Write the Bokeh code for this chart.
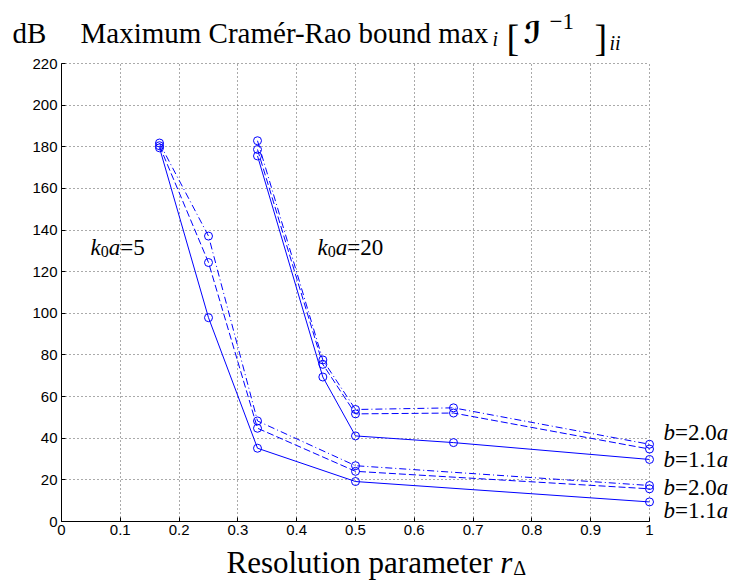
from bokeh.plotting import figure
from bokeh.models import Label, Range1d, FixedTicker
from bokeh.embed import file_html
from bokeh.resources import INLINE

# ---------------- data ----------------
r_k5 = [1/6, 1/4, 1/3, 1/2, 1.0]
k5_b11 = [179.5, 97.9, 35.2, 19.2, 9.4]
k5_b15 = [180.5, 124.4, 44.8, 24.1, 15.7]
k5_b20 = [181.8, 137.1, 48.3, 26.8, 17.3]

r_k20 = [1/3, 4/9, 1/2, 2/3, 1.0]
k20_b11 = [175.6, 69.4, 41.1, 37.9, 29.8]
k20_b15 = [178.7, 75.5, 51.7, 52.1, 34.8]
k20_b20 = [182.9, 77.6, 53.8, 54.6, 37.1]

x_ticks = [0, 0.1, 0.2, 0.3, 0.4, 0.5, 0.6, 0.7, 0.8, 0.9, 1]
y_ticks = [0, 20, 40, 60, 80, 100, 120, 140, 160, 180, 200, 220]
end_label_b = ["2.0", "1.1", "2.0", "1.1"]

# ---------------- layout (canvas pixels) ----------------
W, H = 731, 581
X0_PX, X1_PX = 61, 649          # canvas x of r=0 and r=1
Y0_PX, YTOP_PX = 521, 63        # canvas y (from top) of 0 dB and 220 dB
XMAX, YMAX = 1.0, 220.0
sx = (X1_PX - X0_PX) / XMAX
sy = (Y0_PX - YTOP_PX) / YMAX


def dx(px):      # canvas x -> data x
    return (px - X0_PX) / sx


def dy(py):      # canvas y (from top) -> data y
    return (Y0_PX - py) / sy


SERIF = "Liberation Serif"
SANS = "Liberation Sans"
BLUE = "#0000ff"

p = figure(width=W, height=H,
           x_range=Range1d(dx(0), dx(W)), y_range=Range1d(dy(H), dy(0)),
           output_backend="svg", toolbar_location=None, title_location=None,
           min_border_left=0, min_border_right=0, min_border_top=0,
           min_border_bottom=0)
p.outline_line_color = None
p.background_fill_color = "white"
p.border_fill_color = "white"

p.xaxis.ticker = FixedTicker(ticks=x_ticks)
p.yaxis.ticker = FixedTicker(ticks=y_ticks)
p.xaxis.major_label_overrides = {0: "0", 1: "1"}
p.xaxis.fixed_location = 0
p.yaxis.fixed_location = 0
p.xaxis.bounds = (0, XMAX)
p.yaxis.bounds = (0, YMAX)
for ax in (p.xaxis, p.yaxis):
    ax.major_tick_in = 4
    ax.major_tick_out = 0
    ax.minor_tick_in = 0
    ax.minor_tick_out = 0
    ax.axis_line_color = "black"
    ax.axis_line_width = 1
    ax.major_tick_line_color = "black"
    ax.major_label_text_font = SANS
    ax.major_label_text_font_size = "15px"
    ax.major_label_text_color = "black"
p.xaxis.major_label_standoff = 3
p.yaxis.major_label_standoff = 4

grid_ok = True
try:
    p.xgrid.bounds = (0, XMAX)
    p.ygrid.bounds = (0, YMAX)
    p.xgrid.cross_bounds = (0, YMAX)
    p.ygrid.cross_bounds = (0, XMAX)
except Exception:
    grid_ok = False

if grid_ok:
    for g in (p.xgrid, p.ygrid):
        g.grid_line_color = "#555555"
        g.grid_line_dash = "1 3"
        g.grid_line_width = 1
else:
    p.xgrid.visible = False
    p.ygrid.visible = False
    gx = [t for t in x_ticks if t > 0]
    gy = [t for t in y_ticks if t > 0]
    p.segment(x0=gx, y0=[0] * len(gx), x1=gx, y1=[YMAX] * len(gx),
              line_color="#555555", line_dash="1 3", line_width=1)
    p.segment(x0=[0] * len(gy), y0=gy, x1=[XMAX] * len(gy), y1=gy,
              line_color="#555555", line_dash="1 3", line_width=1)

styles = ["solid", "7 3", "7 3 1 3"]
for xs, series in ((r_k5, (k5_b11, k5_b15, k5_b20)),
                   (r_k20, (k20_b11, k20_b15, k20_b20))):
    for ys, dash in zip(series, styles):
        p.line(xs, ys, line_color=BLUE, line_width=1, line_dash=dash)
        p.scatter(xs, ys, marker="circle", size=8, fill_color=None,
                  line_color=BLUE, line_width=1)

# ---------------- text helpers ----------------
REG = {' ': 250, '.': 250, '-': 333, '=': 564, 'B': 667, 'C': 667, 'M': 889, 'R': 667,
       'a': 444, 'b': 500, 'd': 500, 'e': 444, 'é': 444, 'i': 278, 'l': 278, 'm': 778,
       'n': 500, 'o': 500, 'p': 500, 'r': 333, 's': 389, 't': 278, 'u': 500, 'x': 500,
       '[': 333, ']': 333, '−': 564, 'Δ': 612}
ITA = {'a': 500, 'b': 500, 'i': 278, 'k': 444, 'r': 389}


def tw(s, size, style):
    tab = ITA if "italic" in style else REG
    return sum(tab.get(c, REG.get(c, 500)) for c in s) * size / 1000.0


def put(txt, x, y, size, style="normal", font=SERIF, base="alphabetic", x_off=0.0, y_off=0.0):
    p.add_layout(Label(x=x, y=y, x_offset=x_off, y_offset=y_off, text=txt,
                       text_font=font, text_font_size=f"{size}px",
                       text_font_style=style, text_color="black",
                       text_baseline=base, text_align="left"))


def run(pieces, x, y, base="alphabetic", x_off=0.0):
    off = x_off
    for txt, size, style, yo in pieces:
        put(txt, x, y, size, style, base=base, x_off=off, y_off=yo)
        off += tw(txt, size, style)


# title: pieces placed at canvas positions (x, baseline y)
title_pieces = [
    ("dB", 12, 32, 29, "normal", SERIF),
    ("Maximum Cramér-Rao bound max", 80, 32, 29, "normal", SERIF),
    ("i", 492, 38, 20, "italic", SERIF),
    ("[", 506, 37, 38, "normal", SERIF),
    ("ℐ", 523, 32, 30, "bold", "DejaVu Sans"),
    ("−1", 549, 21, 23, "normal", SERIF),
    ("]", 594, 37, 38, "normal", SERIF),
    ("ii", 609, 42, 20, "italic", SERIF),
]
for txt, cx, cy, size, style, font in title_pieces:
    put(txt, dx(cx), dy(cy), size, style, font=font)

# x axis label
XL_X, XL_Y, XL_S = 226, 562, 31
put("Resolution parameter ", dx(XL_X), dy(XL_Y), XL_S)
r_x = XL_X + tw("Resolution parameter ", XL_S, "normal")
put("r", dx(r_x), dy(XL_Y), XL_S, "italic")
put("Δ", dx(r_x + tw("r", XL_S, "italic") + 1), dy(XL_Y + 5), 20)

# group labels (k0 a), baseline given in dB units
K_LABEL_Y = 131.4
run([("k", 23, "italic", 0), ("0", 16, "normal", -4), ("a", 23, "italic", 0),
     ("=5", 23, "normal", 0)], dx(90), K_LABEL_Y)
run([("k", 23, "italic", 0), ("0", 16, "normal", -4), ("a", 23, "italic", 0),
     ("=20", 23, "normal", 0)], dx(317), K_LABEL_Y)

# right end labels (vertical centres in dB units)
end_label_y = [42.9, 30.0, 16.5, 5.2]
for num, yy in zip(end_label_b, end_label_y):
    run([("b", 23, "italic", 0), ("=" + num, 23, "normal", 0), ("a", 23, "italic", 0)],
        dx(663), yy, base="middle")

open("out.html", "w").write(file_html(p, INLINE))
